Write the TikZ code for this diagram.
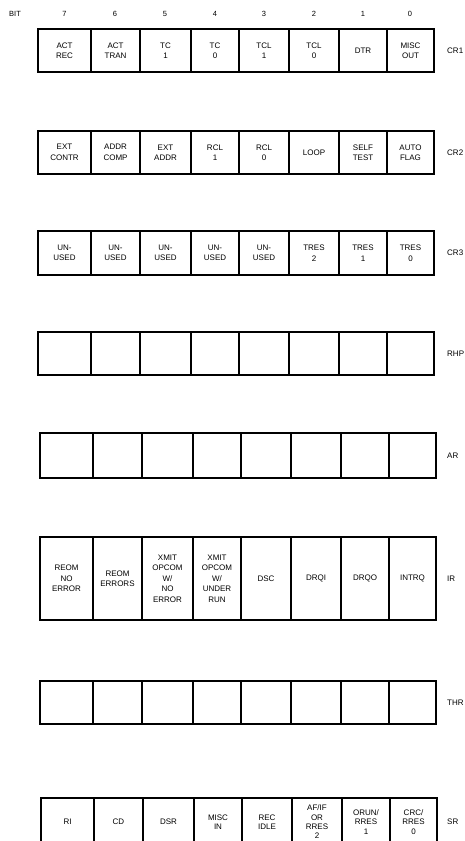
\documentclass[tikz,border=0pt]{standalone}
\usepackage{fontspec}
\setmainfont{Liberation Sans}
\tikzset{
  cell/.style={draw, line width=1.3pt, inner sep=0pt, align=center,
    font=\fontsize{8}{10.5}\selectfont},
  tightcell/.style={font=\fontsize{8}{9.3}\selectfont},
  regname/.style={anchor=west, inner sep=0pt, font=\fontsize{8}{10}\selectfont},
  bitnum/.style={inner sep=0pt, font=\fontsize{7.5}{9}\selectfont},
}
\def\colb{{38,91,140,191,239,289,339,387,434}}
% [#1 extra cell options] #2 register name, #3 top, #4 bottom, #5 x offset, #6 cell texts (bit 7 .. bit 0)
\newcommand\regrow[6][]{%
  \foreach \lab [count=\i from 0] in {#6}{%
    \pgfmathsetmacro\myxl{\colb[\i]+#5}%
    \pgfmathsetmacro\myxr{\colb[\i+1]+#5}%
    \pgfmathsetmacro\mycw{\myxr-\myxl}%
    \pgfmathsetmacro\mych{#4-#3}%
    \pgfmathsetmacro\myxc{(\myxl+\myxr)/2}%
    \pgfmathsetmacro\myyc{-(#3+#4)/2}%
    \node[cell, #1, minimum width=\mycw pt, minimum height=\mych pt] (#2c\i) at (\myxc pt,\myyc pt) {\lab};
  }%
  \pgfmathsetmacro\myyc{-(#3+#4)/2}%
  \node[regname] (#2name) at (447pt,\myyc pt) {#2};
}
\begin{document}
\begin{tikzpicture}
\clip (0,0) rectangle (464pt,-841pt);
\fill[white] (0,0) rectangle (464pt,-841pt);
% bit header
\node[bitnum] (bit) at (15pt,-14pt) {BIT};
\node[bitnum] (b7) at (64.5pt,-14pt) {7};
\node[bitnum] (b6) at (115pt,-14pt) {6};
\node[bitnum] (b5) at (165pt,-14pt) {5};
\node[bitnum] (b4) at (215pt,-14pt) {4};
\node[bitnum] (b3) at (264pt,-14pt) {3};
\node[bitnum] (b2) at (314pt,-14pt) {2};
\node[bitnum] (b1) at (363pt,-14pt) {1};
\node[bitnum] (b0) at (410pt,-14pt) {0};
% registers
\regrow{CR1}{29}{72}{0}{{ACT\\REC},{ACT\\TRAN},{TC\\1},{TC\\0},{TCL\\1},{TCL\\0},{DTR},{MISC\\OUT}}
\regrow{CR2}{131}{174}{0}{{EXT\\CONTR},{ADDR\\COMP},{EXT\\ADDR},{RCL\\1},{RCL\\0},{LOOP},{SELF\\TEST},{AUTO\\FLAG}}
\regrow{CR3}{231}{275}{0}{{UN-\\USED},{UN-\\USED},{UN-\\USED},{UN-\\USED},{UN-\\USED},{TRES\\2},{TRES\\1},{TRES\\0}}
\regrow{RHP}{332}{375}{0}{\null,\null,\null,\null,\null,\null,\null,\null}
\regrow{AR}{433}{478}{2}{\null,\null,\null,\null,\null,\null,\null,\null}
\regrow{IR}{537}{620}{2}{{REOM\\NO\\ERROR},{REOM\\ERRORS},{XMIT\\OPCOM\\W/\\NO\\ERROR},{XMIT\\OPCOM\\W/\\UNDER\\RUN},{DSC},{DRQI},{DRQO},{INTRQ}}
\regrow{THR}{681}{724}{2}{\null,\null,\null,\null,\null,\null,\null,\null}
\regrow[tightcell]{SR}{798}{846}{3}{{RI},{CD},{DSR},{MISC\\IN},{REC\\IDLE},{AF/IF\\OR\\RRES\\2},{ORUN/\\RRES\\1},{CRC/\\RRES\\0}}
\end{tikzpicture}
\end{document}
